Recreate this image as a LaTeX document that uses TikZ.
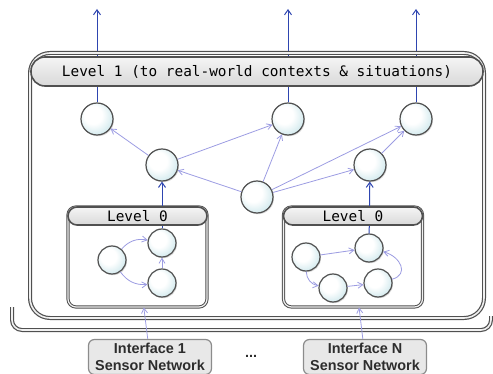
\documentclass[tikz,border=0pt]{standalone}
\usepackage{fontspec}
\setmonofont{DejaVu Sans Mono}
\setsansfont{Liberation Sans}
\usetikzlibrary{arrows.meta,shadows}
\definecolor{linkcol}{HTML}{9C9CE2}
\definecolor{upcol}{HTML}{2E45B0}
\definecolor{rimcol}{HTML}{505050}
\definecolor{ballcol}{HTML}{D3EAEE}
\pgfdeclareradialshading{ballshade}{\pgfpoint{-8bp}{8bp}}{%
  color(0bp)=(white); color(14bp)=(white); color(30bp)=(ballcol);
  color(40bp)=(ballcol!85!gray); color(60bp)=(ballcol!85!gray)}
\tikzset{
  unit/.style={circle, draw=rimcol, line width=0.6pt, shading=ballshade,
    minimum size=16pt, inner sep=0pt,
    drop shadow={opacity=0.3, shadow xshift=0.5pt, shadow yshift=-0.6pt}},
  subunit/.style={unit, minimum size=14pt},
  link/.style={draw=linkcol, line width=0.4pt, -{Straight Barb[length=2.5pt,width=3pt]}},
  up/.style={draw=upcol, line width=0.5pt, -{Straight Barb[length=2.5pt,width=3.5pt]}},
  frame/.style={draw=rimcol, double=gray!12, double distance=0.8pt,
    line width=0.6pt, rounded corners=5pt},
  header/.style={draw=rimcol, top color=gray!8, bottom color=gray!30,
    line width=0.8pt, rounded corners=4.5pt, inner sep=0pt,
    font=\ttfamily\fontsize{7.2}{8}\selectfont},
  levelbox/.style={draw=rimcol, double=gray!12, double distance=0.6pt,
    line width=0.5pt, fill=white, rounded corners=4pt,
    minimum width=69.5pt, minimum height=50pt, inner sep=0pt},
  iface/.style={draw=gray!90, fill=gray!18, line width=0.6pt, rounded corners=3pt,
    text=gray!35!black, align=center, inner sep=0pt,
    minimum width=61.5pt, minimum height=17.5pt,
    font=\sffamily\bfseries\fontsize{7.2}{8.4}\selectfont}
}
\begin{document}
\begin{tikzpicture}[x=0.5pt, y=-0.5pt]
  \useasboundingbox (0,0) rectangle (493,374);
  % back panel
  \draw[frame] (12,307) |- (491,330) -- (491,316);
  % level 1 nodes
  \node[unit] (a1) at (97,119) {};
  \node[unit] (a2) at (288,119) {};
  \node[unit] (a3) at (416,119) {};
  \node[unit] (b1) at (162,165) {};
  \node[unit] (b2) at (257,197) {};
  \node[unit] (b3) at (370,165) {};
  \coordinate (o1) at (97,9);
  \coordinate (o2) at (288,9);
  \coordinate (o3) at (416,9);
  \draw[up] (a1) -- (o1);
  \draw[up] (a2) -- (o2);
  \draw[up] (a3) -- (o3);
  \draw[frame, rounded corners=10pt] (30,53) rectangle (484,318);
  \node[header, minimum width=226pt, minimum height=14.5pt, rounded corners=7pt]
    (lvl1) at (257,71.5) {Level 1 (to real-world contexts \& situations)};
  \begin{scope}[link]
    \draw (b1) -- (a1);
    \draw (b1) -- (a2);
    \draw (b2) -- (b1);
    \draw (b2) -- (a2);
    \draw (b2) -- (a3);
    \draw (b2) -- (b3);
    \draw (b3) -- (a3);
  \end{scope}
  % level 0, left
  \node[levelbox] (l0a) at (137.5,257) {};
  \node[subunit] (c1) at (112,260) {};
  \node[subunit] (c2) at (162,243) {};
  \node[subunit] (c3) at (162,283) {};
  \draw[up] (c2) -- (b1);
  \node[header, minimum width=69.5pt, minimum height=9pt] (h0a) at (137.5,216) {Level 0};
  \begin{scope}[link]
    \draw (c1) to[bend left=30] (c2);
    \draw (c1) to[bend right=30] (c3);
    \draw (c3) -- (c2);
  \end{scope}
  % level 0, right
  \node[levelbox] (l0b) at (353,257) {};
  \node[subunit] (d1) at (306,257) {};
  \node[subunit] (d2) at (369,248) {};
  \node[subunit] (d3) at (333,288) {};
  \node[subunit] (d4) at (378,283) {};
  \draw[up] (d2) -- (b3);
  \node[header, minimum width=69.5pt, minimum height=9pt] (h0b) at (353,216) {Level 0};
  \begin{scope}[link]
    \draw (d1) -- (d2);
    \draw (d1) to[bend right=40] (d3);
    \draw (d3) -- (d4);
    \draw (d4) to[out=15, in=-15, looseness=1.6] (d2);
  \end{scope}
  % interfaces
  \node[iface] (if1) at (150,357) {Interface 1\\Sensor Network};
  \node[iface] (ifn) at (365,357) {Interface N\\Sensor Network};
  \node[font=\sffamily\bfseries\fontsize{7.2}{8.4}\selectfont, text=gray!35!black] (dots) at (251,356) {...};
  \draw[link] (if1) -- (l0a);
  \draw[link] (ifn) -- (l0b);
\end{tikzpicture}
\end{document}
